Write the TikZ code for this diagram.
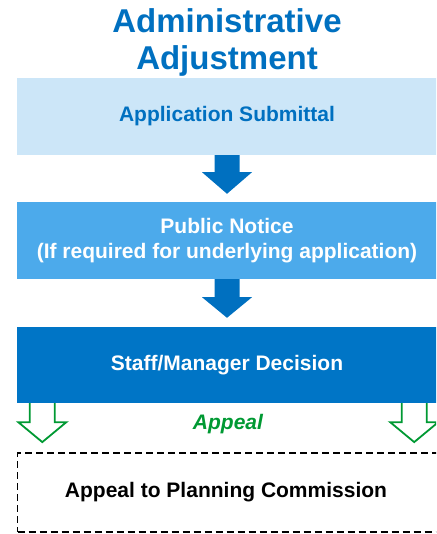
\documentclass[tikz,border=0pt]{standalone}
\usepackage{fontspec}
\setmainfont{Liberation Sans}
\usetikzlibrary{calc}
\definecolor{titleblue}{RGB}{0,112,192}
\definecolor{lightbox}{RGB}{204,230,248}
\definecolor{midbox}{RGB}{76,170,235}
\definecolor{darkbox}{RGB}{0,117,198}
\definecolor{appealgreen}{RGB}{0,153,51}
\tikzset{
  stagebox/.style={minimum width=420pt, minimum height=77pt, inner sep=0pt, align=center, font=\fontsize{21}{25}\selectfont\bfseries},
  bluearrow/.style={fill=titleblue, draw=none},
  greenarrow/.style={draw=appealgreen, line width=1.8pt, fill=white, line join=miter},
}
\begin{document}
\begin{tikzpicture}[x=1pt,y=-1pt]
\useasboundingbox (0,0) rectangle (436,534);
\clip (0,0) rectangle (436,534);
\node[font=\fontsize{33}{37}\selectfont\bfseries, text=titleblue, align=center] (title) at (227,42.5) {Administrative\\Adjustment};
\node[stagebox, fill=lightbox, text=titleblue] (b1) at (227,116.5) {Application Submittal};
\node[stagebox, fill=midbox, text=white] (b2) at (227,240.5) {Public Notice\\(If required for underlying application)};
\node[stagebox, fill=darkbox, text=white, minimum height=76pt] (b3) at (227,365) {Staff/Manager Decision};
\node[stagebox, draw=black, line width=1.8pt, dash pattern=on 7pt off 4pt, minimum width=424pt, minimum height=79pt, text=black, font=\fontsize{21}{25}\selectfont\bfseries] (b4) at (229.5,492.5) {};
\node[text=black, font=\fontsize{21}{25}\selectfont\bfseries] (b4text) at (226,492.5) {Appeal to Planning Commission};
\node[text=appealgreen, font=\fontsize{21}{25}\selectfont\bfseries\itshape] (appeal) at (228,424.5) {Appeal};
% blue arrows
\fill[bluearrow] ($(b1.south)+(-12.5,0)$) -- ($(b1.south)+(12.5,0)$) -- ($(b1.south)+(12.5,17)$) -- ($(b1.south)+(25,17)$) -- ($(b2.north)+(0,-8)$) -- ($(b1.south)+(-25,17)$) -- ($(b1.south)+(-12.5,17)$) -- cycle;
\fill[bluearrow] ($(b2.south)+(-12.5,0)$) -- ($(b2.south)+(12.5,0)$) -- ($(b2.south)+(12.5,18)$) -- ($(b2.south)+(25,18)$) -- ($(b3.north)+(0,-9)$) -- ($(b2.south)+(-25,18)$) -- ($(b2.south)+(-12.5,18)$) -- cycle;
% green outlined arrows
\coordinate (gl) at ($(b3.south west)+(25.5,0)$);
\coordinate (gr) at ($(b3.south east)+(-23,0)$);
\draw[greenarrow] ($(gl)+(-12.5,0)$) -- ($(gl)+(-12.5,19)$) -- ($(gl)+(-24,19)$) -- ($(b4.north -| gl)+(0,-10)$) -- ($(gl)+(24,19)$) -- ($(gl)+(12.5,19)$) -- ($(gl)+(12.5,0)$);
\draw[greenarrow] ($(gr)+(-12.5,0)$) -- ($(gr)+(-12.5,19)$) -- ($(gr)+(-24,19)$) -- ($(b4.north -| gr)+(0,-10)$) -- ($(gr)+(24,19)$) -- ($(gr)+(12.5,19)$) -- ($(gr)+(12.5,0)$);
\end{tikzpicture}
\end{document}
